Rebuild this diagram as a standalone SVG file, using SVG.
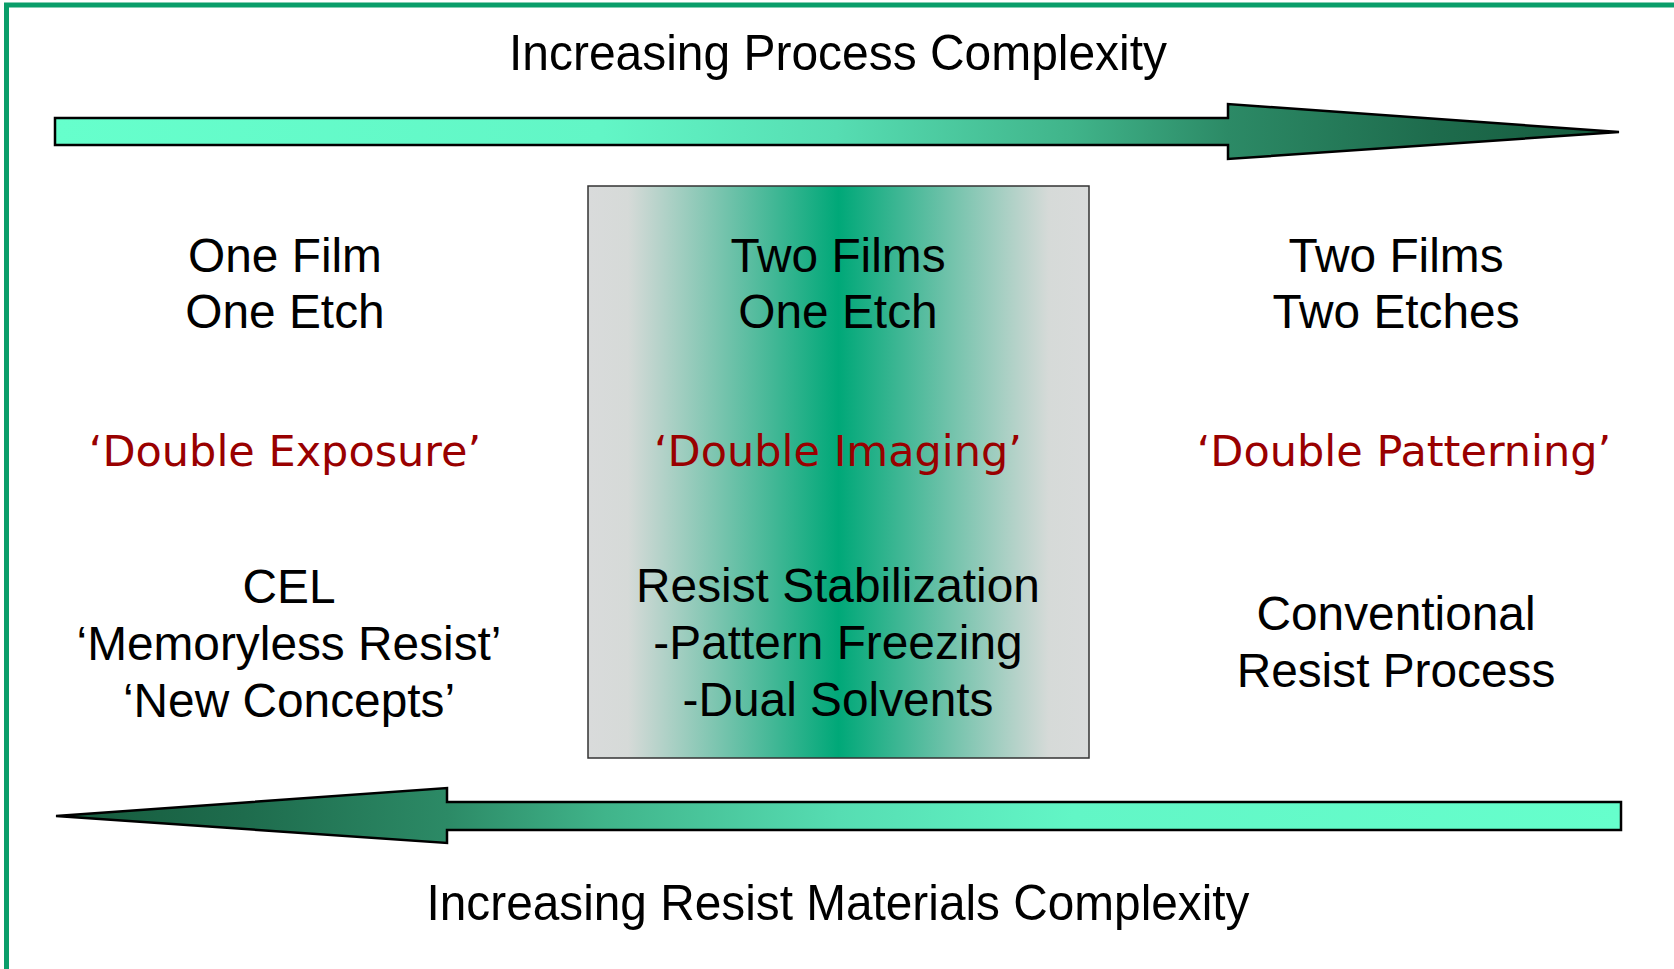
<svg xmlns="http://www.w3.org/2000/svg" width="1674" height="969" viewBox="0 0 1674 969">
  <style>
    .t { font-family: "Liberation Sans", Arial, sans-serif; font-size: 47.8px; fill: #000; text-anchor: middle; }
    .title { font-family: "Liberation Sans", Arial, sans-serif; font-size: 50px; fill: #000; text-anchor: middle; }
    .r { font-family: "DejaVu Sans", Verdana, sans-serif; font-size: 43px; fill: #990000; text-anchor: middle; }
    .arrow { stroke: #000; stroke-width: 2.5; stroke-linejoin: miter; }
  </style>
  <defs>
    <linearGradient id="gRight" gradientUnits="userSpaceOnUse" x1="55" y1="0" x2="1619" y2="0">
      <stop offset="0" stop-color="#66FFCC"/>
      <stop offset="0.35" stop-color="#62F6C6"/>
      <stop offset="0.5" stop-color="#56DDB2"/>
      <stop offset="0.65" stop-color="#40B48A"/>
      <stop offset="0.75" stop-color="#2C8A66"/>
      <stop offset="0.88" stop-color="#1E6C4D"/>
      <stop offset="1" stop-color="#155A3C"/>
    </linearGradient>
    <linearGradient id="gLeft" gradientUnits="userSpaceOnUse" x1="1621" y1="0" x2="56" y2="0">
      <stop offset="0" stop-color="#66FFCC"/>
      <stop offset="0.35" stop-color="#62F6C6"/>
      <stop offset="0.5" stop-color="#56DDB2"/>
      <stop offset="0.65" stop-color="#40B48A"/>
      <stop offset="0.75" stop-color="#2C8A66"/>
      <stop offset="0.88" stop-color="#1E6C4D"/>
      <stop offset="1" stop-color="#155A3C"/>
    </linearGradient>
    <linearGradient id="gBox" x1="0" y1="0" x2="1" y2="0">
      <stop offset="0" stop-color="#D9DBDB"/>
      <stop offset="0.08" stop-color="#D6DAD8"/>
      <stop offset="0.5" stop-color="#00A878"/>
      <stop offset="0.92" stop-color="#D6DAD8"/>
      <stop offset="1" stop-color="#D9DBDB"/>
    </linearGradient>
  </defs>

  <rect x="0" y="0" width="1674" height="969" fill="#FFFFFF"/>
  <path id="frame" d="M6.5,969 V5 H1674" fill="none" stroke="#0A9E6A" stroke-width="5"/>

  <g id="connectors">
    <path id="arrow-top" class="arrow" fill="url(#gRight)" d="M55,118 H1228 V104 L1619,132 L1228,159 V145 H55 Z"/>
    <path id="arrow-bottom" class="arrow" fill="url(#gLeft)" d="M56,816 L447,788 V802 H1621 V830 H447 V843 Z"/>
  </g>

  <g id="title-top">
    <text class="title" x="838" y="70" textLength="658" lengthAdjust="spacingAndGlyphs">Increasing Process Complexity</text>
  </g>

  <g id="col-left">
    <text class="t" x="285" y="272">One Film</text>
    <text class="t" x="285" y="328">One Etch</text>
    <text class="r" x="285" y="466">‘Double Exposure’</text>
    <text class="t" x="289" y="603">CEL</text>
    <text class="t" x="289" y="660">‘Memoryless Resist’</text>
    <text class="t" x="289" y="717">‘New Concepts’</text>
  </g>

  <g id="col-center">
    <rect x="588" y="186" width="501" height="572" fill="url(#gBox)" stroke="#333333" stroke-width="1.5"/>
    <text class="t" x="838" y="272">Two Films</text>
    <text class="t" x="838" y="328">One Etch</text>
    <text class="r" x="838" y="466">‘Double Imaging’</text>
    <text class="t" x="838" y="602">Resist Stabilization</text>
    <text class="t" x="838" y="659">-Pattern Freezing</text>
    <text class="t" x="838" y="716">-Dual Solvents</text>
  </g>

  <g id="col-right">
    <text class="t" x="1396" y="272">Two Films</text>
    <text class="t" x="1396" y="328">Two Etches</text>
    <text class="r" x="1404" y="466">‘Double Patterning’</text>
    <text class="t" x="1396" y="630">Conventional</text>
    <text class="t" x="1396" y="687">Resist Process</text>
  </g>

  <g id="title-bottom">
    <text class="title" x="838" y="920" textLength="823" lengthAdjust="spacingAndGlyphs">Increasing Resist Materials Complexity</text>
  </g>
</svg>
